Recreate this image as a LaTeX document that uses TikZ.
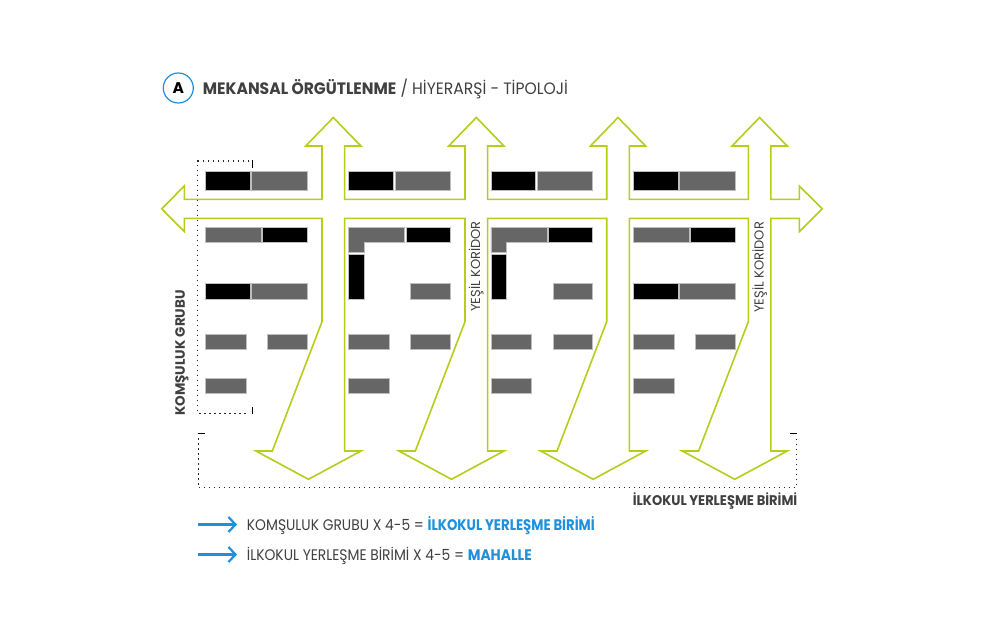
\documentclass[tikz,border=0pt]{standalone}
\usepackage{fontspec}
\setmainfont{Poppins}
\newfontfamily\titlefont{Poppins}[FakeStretch=0.945]
\newfontfamily\legfont{Poppins}[FakeStretch=0.905]
\newfontfamily\legfontc{Poppins}[FakeStretch=0.865]
\newfontfamily\legfontb{Poppins}[FakeStretch=0.93]
\usetikzlibrary{arrows.meta}
\definecolor{street}{RGB}{184,204,28}
\definecolor{blockgray}{RGB}{102,102,102}
\definecolor{edgegray}{RGB}{190,190,190}
\definecolor{txt}{RGB}{64,64,64}
\definecolor{legblue}{RGB}{30,144,220}
\tikzset{
  streetline/.style={draw=street, line width=1.6pt, line join=miter},
  bk/.style={fill=black, draw=edgegray, line width=0.6pt},
  gr/.style={fill=blockgray, draw=edgegray, line width=0.6pt},
  dotline/.style={draw=black!85, line width=1.5pt, dash pattern=on 1.5pt off 3.5pt},
  tick/.style={draw=black, line width=1.6pt},
  legarrow/.style={draw=legblue, line width=2.2pt, -{Straight Barb[length=7pt,width=15pt,line width=2.2pt]}},
}
\begin{document}
\begin{tikzpicture}[x=1pt,y=-1pt]
\useasboundingbox[fill=white] (0,0) rectangle (1000,621);

% streets outline
\draw[streetline] (161.7,208.8) -- (184.3,186) -- (184.3,199.3) -- (322,199.3) -- (322,146) -- (305.7,146) -- (333.3,117.5) -- (360.9,146) -- (344.6,146) -- (344.6,199.3) -- (465,199.3) -- (465,146) -- (448.7,146) -- (476.3,117.5) -- (503.9,146) -- (487.6,146) -- (487.6,199.3) -- (606.7,199.3) -- (606.7,146) -- (590.4,146) -- (618,117.5) -- (645.6,146) -- (629.3,146) -- (629.3,199.3) -- (748.3,199.3) -- (748.3,146) -- (732,146) -- (759.6,117.5) -- (787.2,146) -- (770.9,146) -- (770.9,199.3) -- (799.3,199.3) -- (799.3,186) -- (822.3,208.8) -- (799.3,231.6) -- (799.3,218.3) -- (770.9,218.3) -- (770.9,451) -- (787.25,451) -- (734.75,479.3) -- (682.25,451) -- (698.6,451) -- (748.3,321.7) -- (748.3,218.3) -- (629.3,218.3) -- (629.3,451) -- (645.65,451) -- (593.15,479.3) -- (540.65,451) -- (557,451) -- (606.7,321.7) -- (606.7,218.3) -- (487.6,218.3) -- (487.6,451) -- (503.95,451) -- (451.45,479.3) -- (398.95,451) -- (415.3,451) -- (465,321.7) -- (465,218.3) -- (344.6,218.3) -- (344.6,451) -- (360.95,451) -- (308.45,479.3) -- (255.95,451) -- (272.3,451) -- (322,321.7) -- (322,218.3) -- (184.3,218.3) -- (184.3,231.6) -- cycle;

% blocks: columns of type A (1 and 4)
\foreach \c in {205.7,633.5}{
  \draw[bk] (\c,171) rectangle ++(45,19.3);
  \draw[gr] (\c+46,171) rectangle ++(55.8,19.3);
  \draw[gr] (\c,227.7) rectangle ++(56,15);
  \draw[bk] (\c+57,227.7) rectangle ++(44.8,15);
  \draw[bk] (\c,283.3) rectangle ++(44.6,15.7);
  \draw[gr] (\c+46,283.3) rectangle ++(55.8,15.7);
  \draw[gr] (\c,334.3) rectangle ++(40.3,14.7);
  \draw[gr] (\c+61.6,334.3) rectangle ++(40.2,14.7);
  \draw[gr] (\c,378.7) rectangle ++(40.3,14.6);
}
% blocks: columns of type B (2 and 3)
\foreach \c in {348.5,490.8}{
  \draw[bk] (\c,171) rectangle ++(44.5,19.3);
  \draw[gr] (\c+46.3,171) rectangle ++(55.5,19.3);
  \draw[gr] (\c,227.7) -- ++(56,0) -- ++(0,15) -- ++(-40.7,0) -- ++(0,10) -- ++(-15.3,0) -- cycle;
  \draw[bk] (\c+57.3,227.7) rectangle ++(44.5,15);
  \draw[bk] (\c,254.3) rectangle ++(15.3,44.7);
  \draw[gr] (\c+62,283.3) rectangle ++(39.8,15.7);
  \draw[gr] (\c,334.3) rectangle ++(40.3,14.7);
  \draw[gr] (\c+62,334.3) rectangle ++(39.8,14.7);
  \draw[gr] (\c,378.7) rectangle ++(40.3,14.6);
}

% dotted brackets
\draw[dotline] (249,161) -- (197.7,161) -- (197.7,413.3) -- (249,413.3);
\draw[tick] (252.3,159.8) -- (252.3,167.5);
\draw[tick] (252.3,407) -- (252.3,414.3);
\draw[dotline] (198.3,438) -- (198.3,487.5) -- (796.5,487.5) -- (796.5,438);
\draw[tick] (197.5,433.3) -- (205,433.3);
\draw[tick] (790,433.3) -- (797.3,433.3);

% title
\node[circle, draw=legblue, line width=1.2pt, minimum size=30pt, inner sep=0pt, font=\fontsize{15.5}{18}\selectfont\bfseries, text=black] (circA) at (178.3,88) {A};
\node[anchor=base west, inner sep=0pt, text=txt, font=\titlefont\fontsize{16.5}{20}\selectfont] (title) at (202.7,94.3) {\textbf{MEKANSAL ÖRGÜTLENME} / HİYERARŞİ - TİPOLOJİ};

% rotated labels
\node[rotate=90, inner sep=0pt, text=txt, font=\fontsize{13.5}{16}\selectfont\bfseries] (komsu) at (182,353) {KOMŞULUK GRUBU};
\node[rotate=90, inner sep=0pt, text=txt, font=\fontsize{13}{16}\selectfont] (yesil1) at (476.3,266.5) {YEŞİL KORİDOR};
\node[rotate=90, inner sep=0pt, text=txt, font=\fontsize{13}{16}\selectfont] (yesil2) at (759.6,267.3) {YEŞİL KORİDOR};

% bottom label
\node[anchor=base east, inner sep=0pt, text=txt, font=\legfontb\fontsize{14}{16}\selectfont\bfseries] (ilkokul) at (797.5,505) {İLKOKUL YERLEŞME BİRİMİ};

% legend
\coordinate (a1s) at (198.3,524.5);
\coordinate (a1e) at (237,524.5);
\coordinate (a2s) at (198.3,554.5);
\coordinate (a2e) at (237,554.5);
\draw[legarrow] (a1s) -- (a1e);
\draw[legarrow] (a2s) -- (a2e);
\node[anchor=base west, inner sep=0pt, text=txt, font=\legfont\fontsize{15.3}{18}\selectfont] (leg1) at (246.7,530) {KOMŞULUK GRUBU X 4-5 = \textcolor{legblue}{\legfontc\bfseries İLKOKUL YERLEŞME BİRİMİ}};
\node[anchor=base west, inner sep=0pt, text=txt, font=\legfont\fontsize{15.3}{18}\selectfont] (leg2) at (246.7,560) {İLKOKUL YERLEŞME BİRİMİ X 4-5 = \textcolor{legblue}{\textbf{MAHALLE}}};
\end{tikzpicture}
\end{document}
